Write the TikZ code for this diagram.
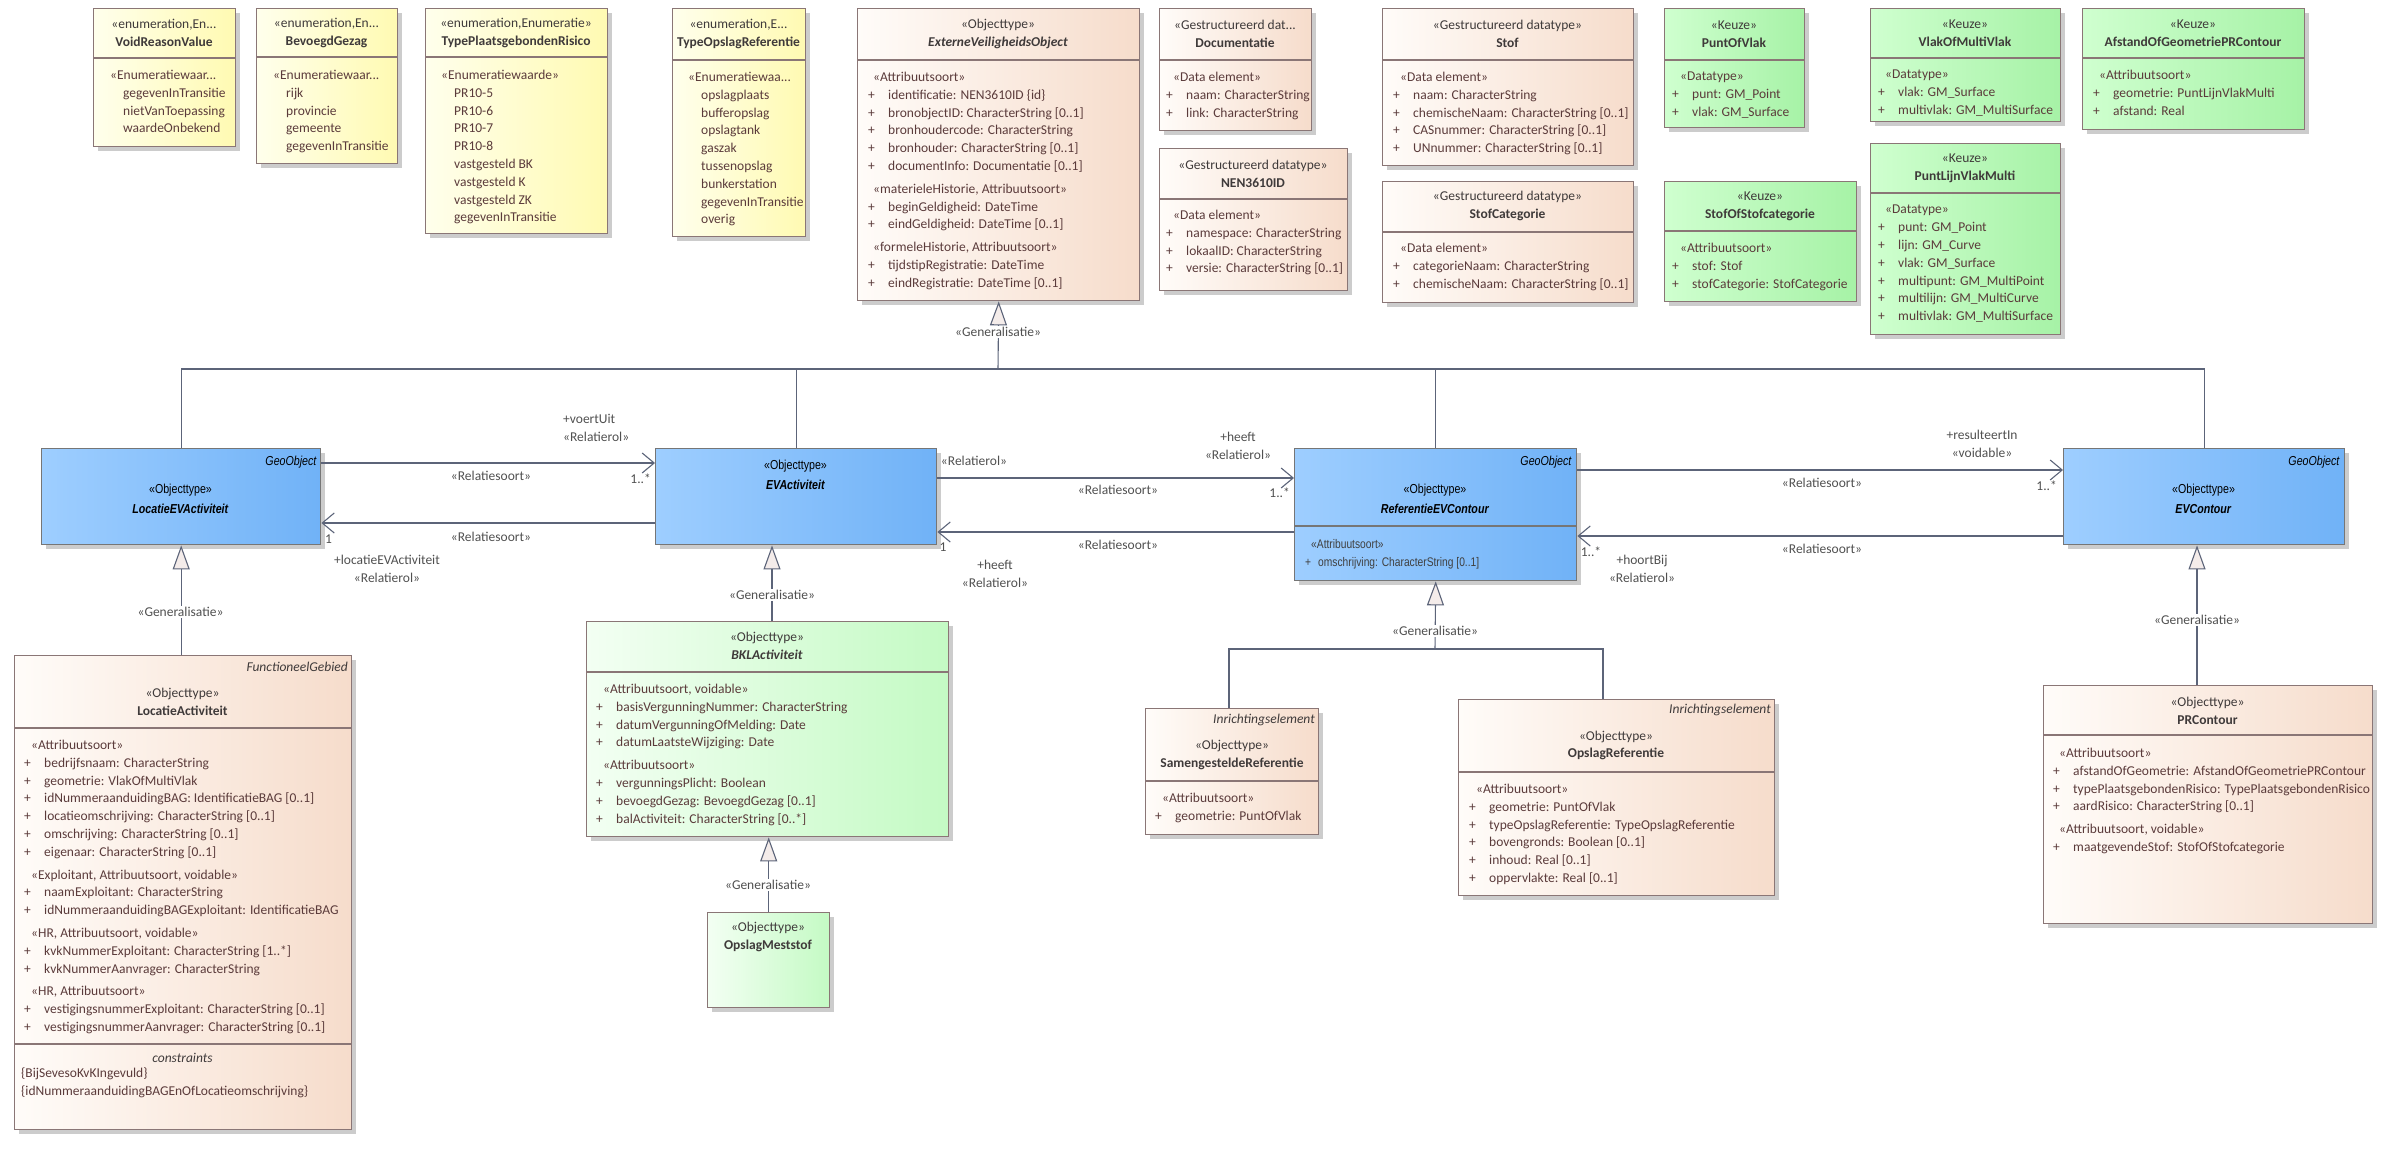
\documentclass[tikz,border=0pt]{standalone}
\usepackage{fontspec}
\setmainfont{Carlito}
\newfontfamily\narrowfont{Liberation Sans}[FakeStretch=0.82]
\usetikzlibrary{arrows.meta,shadows}

\definecolor{boxline}{HTML}{8A7676}
\definecolor{blueline}{HTML}{767676}
\definecolor{connc}{HTML}{5C6479}
\definecolor{genfill}{HTML}{F4ECEA}
\definecolor{enumL}{HTML}{FFFFEC}
\definecolor{enumR}{HTML}{FFFAB2}
\definecolor{dtL}{HTML}{FFFCF9}
\definecolor{dtR}{HTML}{F6DCCB}
\definecolor{keuL}{HTML}{CFFFCF}
\definecolor{keuR}{HTML}{A6F2A6}
\definecolor{bklL}{HTML}{F3FFF3}
\definecolor{bklR}{HTML}{C4FAC4}
\definecolor{blueL}{HTML}{9ECEFF}
\definecolor{blueR}{HTML}{70B2F7}
\definecolor{txtc}{HTML}{5B3B3B}
\definecolor{hdrc}{HTML}{3F3A3A}
\definecolor{lblc}{HTML}{505050}

\newcommand{\attrl}[1]{\makebox[20pt][l]{+}#1}
\newcommand{\sterl}[2][6pt]{\hspace*{#1}«#2»}
\newcommand{\enumi}[1]{\hspace*{13pt}#1}

\begin{document}
\begin{tikzpicture}[x=1pt, y=-1pt, font=\fontsize{13.5}{17.8}\selectfont,
  umlbox/.style={draw=boxline, line width=1.4pt, anchor=north west, inner sep=0pt,
    drop shadow={shadow xshift=4pt, shadow yshift=-4pt, fill=black!20, opacity=1}},
  enumbox/.style={umlbox, left color=enumL, right color=enumR},
  dtbox/.style={umlbox, left color=dtL, right color=dtR},
  keuzebox/.style={umlbox, left color=keuL, right color=keuR},
  bklbox/.style={umlbox, left color=bklL, right color=bklR},
  bluebox/.style={umlbox, draw=blueline, left color=blueL, right color=blueR},
  divl/.style={draw=boxline, line width=1.2pt},
  hdr/.style={align=center, text=hdrc, inner sep=0pt},
  body/.style={align=left, anchor=north west, text=txtc, inner sep=0pt},
  narrow/.style={font=\narrowfont\fontsize{13}{20}\selectfont},
  rlbl/.style={text=lblc, inner sep=0pt},
  genlbl/.style={text=lblc, fill=white, inner sep=1.5pt},
  conn/.style={draw=connc, line width=1.1pt},
  assoc/.style={conn, -{Straight Barb[length=12pt, width=20pt, line width=1.1pt]}},
  gen/.style={conn, -{Triangle[length=24pt, width=17pt, fill=genfill, line width=1.1pt]}}]
  \useasboundingbox (0,0) rectangle (2391,1174);

  % Enumeraties
  \node[enumbox, minimum width=142, minimum height=138] (vrv) at (93,8) {};
  \draw[divl] (vrv.west |- 0,58) -- (vrv.east |- 0,58);
  \node[hdr] (vrvh) at (164,33) {«enumeration,En...\\\textbf{VoidReasonValue}};
  \node[body] (vrvb) at (110,70) {«Enumeratiewaar...\\\enumi{gegevenInTransitie}\\
    \enumi{nietVanToepassing}\\\enumi{waardeOnbekend}};

  \node[enumbox, minimum width=141, minimum height=155] (bvg) at (256,8) {};
  \draw[divl] (bvg.west |- 0,57) -- (bvg.east |- 0,57);
  \node[hdr] (bvgh) at (326.5,33) {«enumeration,En...\\\textbf{BevoegdGezag}};
  \node[body] (bvgb) at (273,70) {«Enumeratiewaar...\\\enumi{rijk}\\\enumi{provincie}\\
    \enumi{gemeente}\\\enumi{gegevenInTransitie}};

  \node[enumbox, minimum width=182, minimum height=225] (tpr) at (425,8) {};
  \draw[divl] (tpr.west |- 0,57) -- (tpr.east |- 0,57);
  \node[hdr] (tprh) at (516,33) {«enumeration,Enumeratie»\\\textbf{TypePlaatsgebondenRisico}};
  \node[body] (tprb) at (441,70) {«Enumeratiewaarde»\\\enumi{PR10-5}\\\enumi{PR10-6}\\
    \enumi{PR10-7}\\\enumi{PR10-8}\\\enumi{vastgesteld BK}\\\enumi{vastgesteld K}\\
    \enumi{vastgesteld ZK}\\\enumi{gegevenInTransitie}};

  \node[enumbox, minimum width=133, minimum height=228] (tor) at (672,8) {};
  \draw[divl] (tor.west |- 0,60) -- (tor.east |- 0,60);
  \node[hdr] (torh) at (738.5,34) {«enumeration,E...\\\textbf{TypeOpslagReferentie}};
  \node[body] (torb) at (688,72) {«Enumeratiewaa...\\\enumi{opslagplaats}\\\enumi{bufferopslag}\\
    \enumi{opslagtank}\\\enumi{gaszak}\\\enumi{tussenopslag}\\\enumi{bunkerstation}\\
    \enumi{gegevenInTransitie}\\\enumi{overig}};

  % ExterneVeiligheidsObject
  \node[dtbox, minimum width=282, minimum height=292] (evo) at (857,8) {};
  \draw[divl] (evo.west |- 0,60) -- (evo.east |- 0,60);
  \node[hdr] (evoh) at (998,34) {«Objecttype»\\\textbf{\textit{ExterneVeiligheidsObject}}};
  \node[body] (evob) at (868,72) {\sterl[5pt]{Attribuutsoort}\\
    \attrl{identificatie: NEN3610ID \{id\}}\\
    \attrl{bronobjectID: CharacterString [0..1]}\\
    \attrl{bronhoudercode: CharacterString}\\
    \attrl{bronhouder: CharacterString [0..1]}\\
    \attrl{documentInfo: Documentatie [0..1]}\\[5pt]
    \sterl[5pt]{materieleHistorie, Attribuutsoort}\\
    \attrl{beginGeldigheid: DateTime}\\
    \attrl{eindGeldigheid: DateTime [0..1]}\\[5pt]
    \sterl[5pt]{formeleHistorie, Attribuutsoort}\\
    \attrl{tijdstipRegistratie: DateTime}\\
    \attrl{eindRegistratie: DateTime [0..1]}};

  % Gestructureerde datatypes
  \node[dtbox, minimum width=152, minimum height=122] (doc) at (1159,8) {};
  \draw[divl] (doc.west |- 0,60) -- (doc.east |- 0,60);
  \node[hdr] (doch) at (1235,34) {«Gestructureerd dat...\\\textbf{Documentatie}};
  \node[body] (docb) at (1166,72) {\sterl[7pt]{Data element}\\
    \attrl{naam: CharacterString}\\\attrl{link: CharacterString}};

  \node[dtbox, minimum width=188, minimum height=142] (nen) at (1159,148) {};
  \draw[divl] (nen.west |- 0,199) -- (nen.east |- 0,199);
  \node[hdr] (nenh) at (1253,173.5) {«Gestructureerd datatype»\\\textbf{NEN3610ID}};
  \node[body] (nenb) at (1166,210) {\sterl[7pt]{Data element}\\
    \attrl{namespace: CharacterString}\\\attrl{lokaalID: CharacterString}\\
    \attrl{versie: CharacterString [0..1]}};

  \node[dtbox, minimum width=251, minimum height=157] (stof) at (1382,8) {};
  \draw[divl] (stof.west |- 0,60) -- (stof.east |- 0,60);
  \node[hdr] (stofh) at (1507.5,34) {«Gestructureerd datatype»\\\textbf{Stof}};
  \node[body] (stofb) at (1393,72) {\sterl[7pt]{Data element}\\
    \attrl{naam: CharacterString}\\\attrl{chemischeNaam: CharacterString [0..1]}\\
    \attrl{CASnummer: CharacterString [0..1]}\\\attrl{UNnummer: CharacterString [0..1]}};

  \node[dtbox, minimum width=251, minimum height=121] (stc) at (1382,181) {};
  \draw[divl] (stc.west |- 0,232) -- (stc.east |- 0,232);
  \node[hdr] (stch) at (1507.5,206) {«Gestructureerd datatype»\\\textbf{StofCategorie}};
  \node[body] (stcb) at (1393,243) {\sterl[7pt]{Data element}\\
    \attrl{categorieNaam: CharacterString}\\\attrl{chemischeNaam: CharacterString [0..1]}};

  % Keuzes
  \node[keuzebox, minimum width=140, minimum height=119] (pov) at (1664,8) {};
  \draw[divl] (pov.west |- 0,60) -- (pov.east |- 0,60);
  \node[hdr] (povh) at (1734,34) {«Keuze»\\\textbf{PuntOfVlak}};
  \node[body] (povb) at (1672,72) {\sterl[8pt]{Datatype}\\
    \attrl{punt: GM\_Point}\\\attrl{vlak: GM\_Surface}};

  \node[keuzebox, minimum width=190, minimum height=113] (vom) at (1870,8) {};
  \draw[divl] (vom.west |- 0,58) -- (vom.east |- 0,58);
  \node[hdr] (vomh) at (1965,33) {«Keuze»\\\textbf{VlakOfMultiVlak}};
  \node[body] (vomb) at (1878,70) {\sterl[7pt]{Datatype}\\
    \attrl{vlak: GM\_Surface}\\\attrl{multivlak: GM\_MultiSurface}};

  \node[keuzebox, minimum width=222, minimum height=121] (aog) at (2082,8) {};
  \draw[divl] (aog.west |- 0,58) -- (aog.east |- 0,58);
  \node[hdr] (aogh) at (2193,33) {«Keuze»\\\textbf{AfstandOfGeometriePRContour}};
  \node[body] (aogb) at (2093,70) {\sterl{Attribuutsoort}\\
    \attrl{geometrie: PuntLijnVlakMulti}\\\attrl{afstand: Real}};

  \node[keuzebox, minimum width=192, minimum height=120] (sos) at (1664,181) {};
  \draw[divl] (sos.west |- 0,231) -- (sos.east |- 0,231);
  \node[hdr] (sosh) at (1760,206) {«Keuze»\\\textbf{StofOfStofcategorie}};
  \node[body] (sosb) at (1672,243) {\sterl[8pt]{Attribuutsoort}\\
    \attrl{stof: Stof}\\\attrl{stofCategorie: StofCategorie}};

  \node[keuzebox, minimum width=190, minimum height=191] (plv) at (1870,143) {};
  \draw[divl] (plv.west |- 0,193) -- (plv.east |- 0,193);
  \node[hdr] (plvh) at (1965,168) {«Keuze»\\\textbf{PuntLijnVlakMulti}};
  \node[body] (plvb) at (1878,205) {\sterl[7pt]{Datatype}\\
    \attrl{punt: GM\_Point}\\\attrl{lijn: GM\_Curve}\\\attrl{vlak: GM\_Surface}\\
    \attrl{multipunt: GM\_MultiPoint}\\\attrl{multilijn: GM\_MultiCurve}\\
    \attrl{multivlak: GM\_MultiSurface}};

  % Objecttypen (GeoObject)
  \node[bluebox, minimum width=279, minimum height=96] (lea) at (41,448) {};
  \node[anchor=east, inner sep=0pt, narrow] (leap) at (317,462) {\textit{GeoObject}};
  \node[hdr, text=black, narrow] (leah) at (180.5,499) {«Objecttype»\\\textbf{\textit{LocatieEVActiviteit}}};

  \node[bluebox, minimum width=281, minimum height=96] (eva) at (655,448) {};
  \node[hdr, text=black, narrow] (evah) at (795.5,475) {«Objecttype»\\\textbf{\textit{EVActiviteit}}};

  \node[bluebox, minimum width=282, minimum height=132] (rec) at (1294,448) {};
  \draw[divl, draw=blueline] (rec.west |- 0,526) -- (rec.east |- 0,526);
  \node[anchor=east, inner sep=0pt, narrow] (recp) at (1572,462) {\textit{GeoObject}};
  \node[hdr, text=black, narrow] (rech) at (1435,499) {«Objecttype»\\\textbf{\textit{ReferentieEVContour}}};
  \node[body, text=black!75, font=\narrowfont\fontsize{12.5}{18}\selectfont] (recb) at (1305,539)
    {\sterl{Attribuutsoort}\\\makebox[13pt][l]{+}omschrijving: CharacterString [0..1]};

  \node[bluebox, minimum width=281, minimum height=96] (evc) at (2063,448) {};
  \node[anchor=east, inner sep=0pt, narrow] (evcp) at (2340,462) {\textit{GeoObject}};
  \node[hdr, text=black, narrow] (evch) at (2203.5,499) {«Objecttype»\\\textbf{\textit{EVContour}}};

  % LocatieActiviteit
  \node[dtbox, minimum width=337, minimum height=474] (lac) at (14,655) {};
  \draw[divl] (lac.west |- 0,728) -- (lac.east |- 0,728);
  \draw[divl] (lac.west |- 0,1044) -- (lac.east |- 0,1044);
  \node[anchor=east, inner sep=0pt, text=hdrc] (lacp) at (348,667) {\textit{FunctioneelGebied}};
  \node[hdr] (lach) at (182.5,702) {«Objecttype»\\\textbf{LocatieActiviteit}};
  \node[body] (lacb) at (24,740) {\sterl[7pt]{Attribuutsoort}\\
    \attrl{bedrijfsnaam: CharacterString}\\
    \attrl{geometrie: VlakOfMultiVlak}\\
    \attrl{idNummeraanduidingBAG: IdentificatieBAG [0..1]}\\
    \attrl{locatieomschrijving: CharacterString [0..1]}\\
    \attrl{omschrijving: CharacterString [0..1]}\\
    \attrl{eigenaar: CharacterString [0..1]}\\[5pt]
    \sterl[7pt]{Exploitant, Attribuutsoort, voidable}\\
    \attrl{naamExploitant: CharacterString}\\
    \attrl{idNummeraanduidingBAGExploitant: IdentificatieBAG}\\[5pt]
    \sterl[7pt]{HR, Attribuutsoort, voidable}\\
    \attrl{kvkNummerExploitant: CharacterString [1..*]}\\
    \attrl{kvkNummerAanvrager: CharacterString}\\[5pt]
    \sterl[7pt]{HR, Attribuutsoort}\\
    \attrl{vestigingsnummerExploitant: CharacterString [0..1]}\\
    \attrl{vestigingsnummerAanvrager: CharacterString [0..1]}};
  \node[hdr] (lacc) at (182.5,1058) {\textit{constraints}};
  \node[body] (lack) at (21,1068) {\{BijSevesoKvKIngevuld\}\\
    \{idNummeraanduidingBAGEnOfLocatieomschrijving\}};

  % BKLActiviteit en OpslagMeststof
  \node[bklbox, minimum width=362, minimum height=215] (bkl) at (586,621) {};
  \draw[divl] (bkl.west |- 0,672) -- (bkl.east |- 0,672);
  \node[hdr] (bklh) at (767,646) {«Objecttype»\\\textbf{\textit{BKLActiviteit}}};
  \node[body] (bklb) at (596,684) {\sterl[7pt]{Attribuutsoort, voidable}\\
    \attrl{basisVergunningNummer: CharacterString}\\
    \attrl{datumVergunningOfMelding: Date}\\
    \attrl{datumLaatsteWijziging: Date}\\[5pt]
    \sterl[7pt]{Attribuutsoort}\\
    \attrl{vergunningsPlicht: Boolean}\\
    \attrl{bevoegdGezag: BevoegdGezag [0..1]}\\
    \attrl{balActiviteit: CharacterString [0..*]}};

  \node[bklbox, minimum width=122, minimum height=95] (oms) at (707,912) {};
  \node[hdr] (omsh) at (768,937) {«Objecttype»\\\textbf{OpslagMeststof}};

  % Referenties
  \node[dtbox, minimum width=173, minimum height=126] (sgr) at (1145,708) {};
  \draw[divl] (sgr.west |- 0,781) -- (sgr.east |- 0,781);
  \node[anchor=east, inner sep=0pt, text=hdrc] (sgrp) at (1315,720) {\textit{Inrichtingselement}};
  \node[hdr] (sgrh) at (1232,755) {«Objecttype»\\\textbf{SamengesteldeReferentie}};
  \node[body] (sgrb) at (1155,793) {\sterl[7pt]{Attribuutsoort}\\\attrl{geometrie: PuntOfVlak}};

  \node[dtbox, minimum width=316, minimum height=196] (opr) at (1458,699) {};
  \draw[divl] (opr.west |- 0,772) -- (opr.east |- 0,772);
  \node[anchor=east, inner sep=0pt, text=hdrc] (oprp) at (1771,710) {\textit{Inrichtingselement}};
  \node[hdr] (oprh) at (1616,745.5) {«Objecttype»\\\textbf{OpslagReferentie}};
  \node[body] (oprb) at (1469,784) {\sterl[7pt]{Attribuutsoort}\\
    \attrl{geometrie: PuntOfVlak}\\
    \attrl{typeOpslagReferentie: TypeOpslagReferentie}\\
    \attrl{bovengronds: Boolean [0..1]}\\
    \attrl{inhoud: Real [0..1]}\\
    \attrl{oppervlakte: Real [0..1]}};

  % PRContour
  \node[dtbox, minimum width=329, minimum height=238] (prc) at (2043,685) {};
  \draw[divl] (prc.west |- 0,735) -- (prc.east |- 0,735);
  \node[hdr] (prch) at (2207.5,711) {«Objecttype»\\\textbf{PRContour}};
  \node[body] (prcb) at (2053,748) {\sterl{Attribuutsoort}\\
    \attrl{afstandOfGeometrie: AfstandOfGeometriePRContour}\\
    \attrl{typePlaatsgebondenRisico: TypePlaatsgebondenRisico}\\
    \attrl{aardRisico: CharacterString [0..1]}\\[5pt]
    \sterl{Attribuutsoort, voidable}\\
    \attrl{maatgevendeStof: StofOfStofcategorie}};

  % Generalisaties
  \coordinate (bus) at (998,369);
  \draw[conn] (lea.north) |- (evc.north |- bus) -- (evc.north);
  \draw[conn] (eva.north) -- (eva.north |- bus);
  \draw[conn] (rec.north) -- (rec.north |- bus);
  \draw[gen] (bus) -- (evo.south);
  \node[genlbl] (g1) at (998,332) {«Generalisatie»};

  \draw[gen] (lea.south |- lac.north) -- (lea.south);
  \node[genlbl] (g2) at (180.5,612) {«Generalisatie»};

  \draw[gen] (bkl.north -| 772,0) -- (eva.south -| 772,0);
  \node[genlbl] (g3) at (772,595) {«Generalisatie»};

  \draw[gen] (oms.north) -- (oms.north |- bkl.south);
  \node[genlbl] (g4) at (768,885) {«Generalisatie»};

  \coordinate (fork) at (1435,649);
  \draw[conn] (sgr.north -| 1229,0) |- (fork) -| (opr.north -| 1603,0);
  \draw[gen] (fork) -- (rec.south);
  \node[genlbl] (g5) at (1435,631) {«Generalisatie»};

  \draw[gen] (prc.north -| 2197,0) -- (evc.south -| 2197,0);
  \node[genlbl] (g6) at (2197,620) {«Generalisatie»};

  % Relaties LocatieEVActiviteit - EVActiviteit
  \draw[assoc] (lea.east |- 0,463) -- (eva.west |- 0,463);
  \draw[assoc] (eva.west |- 0,523) -- (lea.east |- 0,523);
  \node[rlbl, anchor=west, align=left] (r1) at (563,428) {+voertUit\\«Relatierol»};
  \node[rlbl] (r2) at (491,476) {«Relatiesoort»};
  \node[rlbl, anchor=east] (r3) at (651,479) {1..*};
  \node[rlbl] (r4) at (491,537) {«Relatiesoort»};
  \node[rlbl, anchor=west] (r5) at (325,539) {1};
  \node[rlbl, align=center] (r6) at (387,569) {+locatieEVActiviteit\\«Relatierol»};

  % Relaties EVActiviteit - ReferentieEVContour
  \draw[assoc] (eva.east |- 0,478) -- (rec.west |- 0,478);
  \draw[assoc] (rec.west |- 0,532) -- (eva.east |- 0,532);
  \node[rlbl] (r7) at (974,461) {«Relatierol»};
  \node[rlbl, align=center] (r8) at (1238,446) {+heeft\\«Relatierol»};
  \node[rlbl] (r9) at (1118,490) {«Relatiesoort»};
  \node[rlbl, anchor=east] (r10) at (1290,493) {1..*};
  \node[rlbl] (r11) at (1118,545) {«Relatiesoort»};
  \node[rlbl] (r12) at (943,547) {1};
  \node[rlbl, align=center] (r13) at (995,574) {+heeft\\«Relatierol»};

  % Relaties ReferentieEVContour - EVContour
  \draw[assoc] (rec.east |- 0,470) -- (evc.west |- 0,470);
  \draw[assoc] (evc.west |- 0,536) -- (rec.east |- 0,536);
  \node[rlbl, align=center] (r14) at (1982,444) {+resulteertIn\\«voidable»};
  \node[rlbl] (r15) at (1822,483) {«Relatiesoort»};
  \node[rlbl, anchor=east] (r16) at (2057,486) {1..*};
  \node[rlbl] (r17) at (1822,549) {«Relatiesoort»};
  \node[rlbl] (r18) at (1591,552) {1..*};
  \node[rlbl, align=center] (r19) at (1642,569) {+hoortBij\\«Relatierol»};
\end{tikzpicture}
\end{document}
